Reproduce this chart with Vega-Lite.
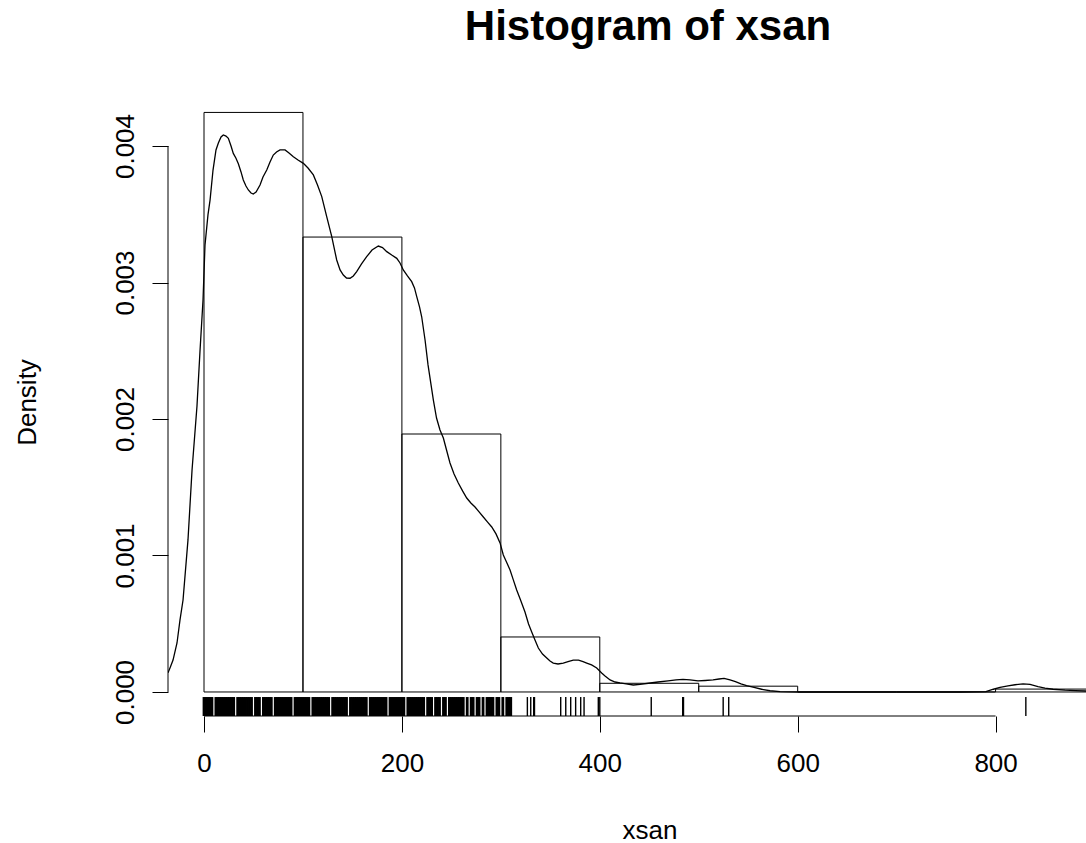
{
  "$schema": "https://vega.github.io/schema/vega-lite/v6.json",
  "width": 918,
  "height": 628,
  "autosize": "none",
  "padding": {"left": 168, "top": 88, "right": 0, "bottom": 127},
  "background": "white",
  "title": {"text": "Histogram of xsan", "font": "Liberation Sans", "fontSize": 42, "fontWeight": "bold", "color": "#000", "anchor": "middle", "dx": 21, "baseline": "alphabetic", "offset": 6},
  "config": {
    "view": {"stroke": null},
    "axis": {"domain": false, "grid": false, "tickColor": "#000", "tickWidth": 1, "tickSize": 16, "labelColor": "#000", "labelFont": "Liberation Sans", "labelFontSize": 26, "titleFont": "Liberation Sans", "titleFontSize": 26, "titleFontWeight": "normal", "titleColor": "#000", "labelFlush": false, "labelOverlap": false}
  },
  "datasets": {
    "bins": [
      {"b0": 0, "b1": 100, "density": 0.004246},
      {"b0": 100, "b1": 200, "density": 0.003333},
      {"b0": 200, "b1": 300, "density": 0.00189},
      {"b0": 300, "b1": 400, "density": 0.000403},
      {"b0": 400, "b1": 500, "density": 0.0000637},
      {"b0": 500, "b1": 600, "density": 0.0000425},
      {"b0": 600, "b1": 700, "density": 0},
      {"b0": 700, "b1": 800, "density": 0},
      {"b0": 800, "b1": 900, "density": 0.0000212}
    ],
    "dens": [
      {"x": -36.4, "d": 0.00014}, {"x": -34.4, "d": 0.000176}, {"x": -31.3, "d": 0.000234}, {"x": -27.3, "d": 0.000359},
      {"x": -24.3, "d": 0.000527}, {"x": -21.2, "d": 0.000674}, {"x": -16.2, "d": 0.001114}, {"x": -12.1, "d": 0.001626},
      {"x": -7.1, "d": 0.002095}, {"x": -4.0, "d": 0.002505}, {"x": -1.0, "d": 0.002872}, {"x": 1.0, "d": 0.003275},
      {"x": 4.0, "d": 0.003495}, {"x": 6.1, "d": 0.003604}, {"x": 9.1, "d": 0.003824}, {"x": 12.1, "d": 0.003971},
      {"x": 14.5, "d": 0.004022}, {"x": 17.2, "d": 0.004066}, {"x": 19.5, "d": 0.004081}, {"x": 22.2, "d": 0.004073},
      {"x": 24.6, "d": 0.004056}, {"x": 27.3, "d": 0.004}, {"x": 29.6, "d": 0.003946}, {"x": 32.3, "d": 0.00391},
      {"x": 34.7, "d": 0.00387}, {"x": 37.4, "d": 0.00381}, {"x": 39.7, "d": 0.003751}, {"x": 42.4, "d": 0.003707},
      {"x": 44.8, "d": 0.003678}, {"x": 47.5, "d": 0.003656}, {"x": 49.8, "d": 0.003648}, {"x": 52.6, "d": 0.003663},
      {"x": 56.6, "d": 0.003714}, {"x": 59.6, "d": 0.003773}, {"x": 63.4, "d": 0.003824}, {"x": 66.7, "d": 0.003883},
      {"x": 70.0, "d": 0.003934}, {"x": 73.3, "d": 0.003956}, {"x": 76.8, "d": 0.003971}, {"x": 81.9, "d": 0.003971},
      {"x": 85.9, "d": 0.003949}, {"x": 90.3, "d": 0.003922}, {"x": 95.0, "d": 0.003897}, {"x": 100.4, "d": 0.003873},
      {"x": 105.1, "d": 0.003839}, {"x": 110.5, "d": 0.003788}, {"x": 114.7, "d": 0.003714}, {"x": 119.0, "d": 0.003629},
      {"x": 124.0, "d": 0.003482}, {"x": 129.1, "d": 0.003336}, {"x": 134.1, "d": 0.003165}, {"x": 137.5, "d": 0.003092},
      {"x": 140.8, "d": 0.003055}, {"x": 144.0, "d": 0.003033}, {"x": 147.6, "d": 0.003031}, {"x": 150.9, "d": 0.003048},
      {"x": 154.3, "d": 0.003079}, {"x": 159.2, "d": 0.003136}, {"x": 164.4, "d": 0.003189}, {"x": 169.8, "d": 0.003238},
      {"x": 176.2, "d": 0.003267}, {"x": 180.4, "d": 0.003256}, {"x": 184.7, "d": 0.003226}, {"x": 189.7, "d": 0.003201},
      {"x": 194.8, "d": 0.003177}, {"x": 198.1, "d": 0.003143}, {"x": 201.4, "d": 0.003092}, {"x": 205.6, "d": 0.003048},
      {"x": 209.9, "d": 0.003006}, {"x": 212.7, "d": 0.00296}, {"x": 215.0, "d": 0.002896}, {"x": 217.8, "d": 0.002821},
      {"x": 220.0, "d": 0.002749}, {"x": 223.4, "d": 0.002579}, {"x": 226.4, "d": 0.002396}, {"x": 231.8, "d": 0.002139},
      {"x": 235.0, "d": 0.002007}, {"x": 238.5, "d": 0.001919}, {"x": 241.9, "d": 0.001861}, {"x": 245.1, "d": 0.001773},
      {"x": 248.6, "d": 0.001678}, {"x": 252.7, "d": 0.001597}, {"x": 257.0, "d": 0.001531}, {"x": 261.3, "d": 0.001473},
      {"x": 265.5, "d": 0.001421}, {"x": 269.7, "d": 0.001385}, {"x": 273.9, "d": 0.001355}, {"x": 278.0, "d": 0.001319},
      {"x": 282.3, "d": 0.001282}, {"x": 286.6, "d": 0.001245}, {"x": 290.8, "d": 0.001209}, {"x": 295.1, "d": 0.001158},
      {"x": 299.2, "d": 0.001092}, {"x": 302.5, "d": 0.001004}, {"x": 305.7, "d": 0.000952}, {"x": 309.3, "d": 0.000894},
      {"x": 312.6, "d": 0.000821}, {"x": 316.0, "d": 0.000747}, {"x": 319.9, "d": 0.000674}, {"x": 324.4, "d": 0.000586},
      {"x": 328.0, "d": 0.000498}, {"x": 331.2, "d": 0.00044}, {"x": 334.5, "d": 0.000381}, {"x": 337.9, "d": 0.000322},
      {"x": 342.1, "d": 0.000278}, {"x": 346.4, "d": 0.000249}, {"x": 349.7, "d": 0.000227}, {"x": 353.0, "d": 0.000212},
      {"x": 357.8, "d": 0.000205}, {"x": 363.1, "d": 0.000212}, {"x": 367.9, "d": 0.000223}, {"x": 373.2, "d": 0.000234},
      {"x": 378.5, "d": 0.000234}, {"x": 383.1, "d": 0.000223}, {"x": 386.8, "d": 0.000212}, {"x": 391.7, "d": 0.000198},
      {"x": 396.9, "d": 0.000176}, {"x": 401.9, "d": 0.000139}, {"x": 405.3, "d": 0.000117}, {"x": 410.4, "d": 0.000088},
      {"x": 415.4, "d": 0.000073}, {"x": 420.5, "d": 0.000066}, {"x": 426.6, "d": 0.000059}, {"x": 433.9, "d": 0.000051},
      {"x": 440.7, "d": 0.000055}, {"x": 449.1, "d": 0.000064}, {"x": 458.9, "d": 0.000073}, {"x": 469.0, "d": 0.000081},
      {"x": 477.1, "d": 0.000088}, {"x": 484.1, "d": 0.000093}, {"x": 491.2, "d": 0.000088}, {"x": 499.3, "d": 0.000081},
      {"x": 506.4, "d": 0.000084}, {"x": 514.5, "d": 0.000088}, {"x": 520.5, "d": 0.000095}, {"x": 525.6, "d": 0.0001},
      {"x": 531.6, "d": 0.000088}, {"x": 537.1, "d": 0.000076}, {"x": 542.7, "d": 0.000059}, {"x": 548.4, "d": 0.000046},
      {"x": 555.9, "d": 0.000033}, {"x": 563.6, "d": 0.00002}, {"x": 572.1, "d": 0.000009}, {"x": 582.2, "d": 0.000002},
      {"x": 602.4, "d": 0}, {"x": 764.1, "d": 0}, {"x": 790.2, "d": 0.000002}, {"x": 797.8, "d": 0.00002},
      {"x": 804.5, "d": 0.000033}, {"x": 812.6, "d": 0.000044}, {"x": 819.7, "d": 0.000053}, {"x": 827.8, "d": 0.000059},
      {"x": 834.8, "d": 0.000055}, {"x": 842.9, "d": 0.000039}, {"x": 850.0, "d": 0.000029}, {"x": 858.1, "d": 0.00002},
      {"x": 870.2, "d": 0.000013}, {"x": 880.8, "d": 0.00001}, {"x": 891.4, "d": 0.000007}, {"x": 900, "d": 0.000005}
    ],
    "rugDense": [
      {"v": 0}, {"v": 2}, {"v": 4}, {"v": 6}, {"v": 8}, {"v": 12}, {"v": 14}, {"v": 16}, {"v": 18}, {"v": 20},
      {"v": 22}, {"v": 24}, {"v": 26}, {"v": 28}, {"v": 30}, {"v": 34}, {"v": 36}, {"v": 38}, {"v": 40}, {"v": 42},
      {"v": 44}, {"v": 46}, {"v": 48}, {"v": 52}, {"v": 54}, {"v": 56}, {"v": 60}, {"v": 62}, {"v": 64}, {"v": 66},
      {"v": 68}, {"v": 72}, {"v": 74}, {"v": 76}, {"v": 78}, {"v": 80}, {"v": 82}, {"v": 84}, {"v": 86}, {"v": 88},
      {"v": 92}, {"v": 94}, {"v": 96}, {"v": 98}, {"v": 100}, {"v": 102}, {"v": 104}, {"v": 106}, {"v": 110}, {"v": 112},
      {"v": 114}, {"v": 116}, {"v": 118}, {"v": 120}, {"v": 122}, {"v": 124}, {"v": 126}, {"v": 130}, {"v": 132}, {"v": 134},
      {"v": 136}, {"v": 138}, {"v": 140}, {"v": 142}, {"v": 144}, {"v": 148}, {"v": 150}, {"v": 152}, {"v": 154}, {"v": 156},
      {"v": 158}, {"v": 160}, {"v": 162}, {"v": 164}, {"v": 168}, {"v": 170}, {"v": 172}, {"v": 174}, {"v": 176}, {"v": 178},
      {"v": 180}, {"v": 182}, {"v": 184}, {"v": 188}, {"v": 190}, {"v": 192}, {"v": 194}, {"v": 196}, {"v": 198}, {"v": 200},
      {"v": 202}, {"v": 206}, {"v": 208}, {"v": 210}, {"v": 212}, {"v": 214}, {"v": 216}, {"v": 218}, {"v": 220}, {"v": 222},
      {"v": 226}, {"v": 228}, {"v": 230}, {"v": 234}, {"v": 236}, {"v": 238}, {"v": 242}, {"v": 244}, {"v": 248}, {"v": 250},
      {"v": 252}, {"v": 254}, {"v": 256}, {"v": 258}, {"v": 260}, {"v": 262}, {"v": 266}, {"v": 270}, {"v": 272}, {"v": 276},
      {"v": 278}, {"v": 282}, {"v": 286}, {"v": 288}, {"v": 290}, {"v": 292}, {"v": 296}, {"v": 298}, {"v": 302}, {"v": 306},
      {"v": 308}, {"v": 310}
    ],
    "rugSparse": [
      {"v": 326.8}, {"v": 330.2}, {"v": 333.2}, {"v": 334.0}, {"v": 360.5}, {"v": 365.6}, {"v": 370.6}, {"v": 375.6},
      {"v": 380.7}, {"v": 384.1}, {"v": 398.5}, {"v": 400.0}, {"v": 452.0}, {"v": 483.8}, {"v": 484.6}, {"v": 524.7},
      {"v": 530.3}, {"v": 830.6}
    ]
  },
  "layer": [
    {
      "data": {"name": "bins"},
      "mark": {"type": "rect", "fill": "white", "fillOpacity": 0, "stroke": "#000", "strokeWidth": 1, "clip": true},
      "encoding": {
        "x": {"field": "b0", "type": "quantitative", "scale": {"domain": [-36.4, 891.4], "nice": false, "zero": false},
              "axis": {"values": [0, 200, 400, 600, 800], "title": "xsan", "labelBaseline": "top", "labelPadding": 18, "titleX": 481.5, "titleY": 122, "titleBaseline": "alphabetic", "titleAnchor": null, "titleAlign": "center"}},
        "x2": {"field": "b1"},
        "y": {"field": "density", "type": "quantitative", "scale": {"domain": [-0.000176, 0.004425], "nice": false, "zero": false},
              "axis": {"values": [0, 0.001, 0.002, 0.003, 0.004], "format": ".3f", "title": "Density", "labelAngle": 270, "labelAlign": "center", "labelBaseline": "alphabetic", "labelPadding": 19, "titleAngle": 270, "titleX": -133, "titleY": 314, "titleAlign": "center", "titleBaseline": "alphabetic"}},
        "y2": {"datum": 0}
      }
    },
    {
      "data": {"name": "dens"},
      "mark": {"type": "line", "color": "#000", "strokeWidth": 1.3, "clip": true, "interpolate": "linear"},
      "encoding": {
        "x": {"field": "x", "type": "quantitative"},
        "y": {"field": "d", "type": "quantitative"}
      }
    },
    {
      "data": {"name": "rugDense"},
      "mark": {"type": "rule", "color": "#000", "strokeWidth": 2.8},
      "encoding": {
        "x": {"field": "v", "type": "quantitative"},
        "y": {"datum": -0.000176},
        "y2": {"datum": -0.000037}
      }
    },
    {
      "data": {"name": "rugSparse"},
      "mark": {"type": "rule", "color": "#000", "strokeWidth": 1.4},
      "encoding": {
        "x": {"field": "v", "type": "quantitative"},
        "y": {"datum": -0.000176},
        "y2": {"datum": -0.000037}
      }
    },
    {
      "data": {"values": [{}]},
      "mark": {"type": "rule", "color": "#000", "strokeWidth": 1},
      "encoding": {
        "x": {"datum": 0},
        "x2": {"datum": 800},
        "y": {"datum": -0.000176}
      }
    },
    {
      "data": {"values": [{}]},
      "mark": {"type": "rule", "color": "#000", "strokeWidth": 1},
      "encoding": {
        "x": {"datum": -36.4},
        "y": {"datum": 0},
        "y2": {"datum": 0.004}
      }
    }
  ]
}
